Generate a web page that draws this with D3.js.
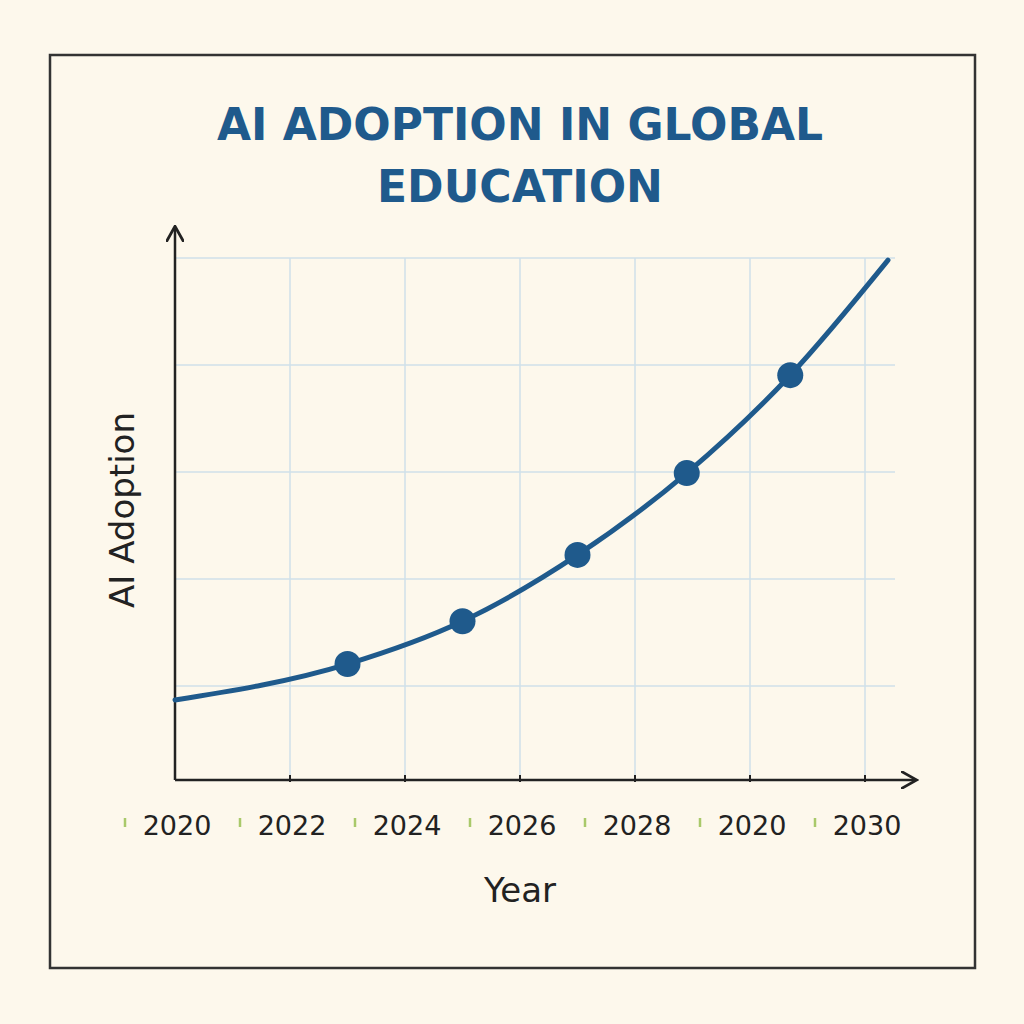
<!DOCTYPE html>
<html>
<head>
<meta charset="utf-8">
<script src="https://cdn.jsdelivr.net/npm/d3@7"></script>
<style>
  body { margin: 0; background: #fdf8ec; }
</style>
</head>
<body>
<script>
// data
var tickYears = [2020, 2022, 2024, 2026, 2028, 2030, 2032];
var tickLabels = ["2020", "2022", "2024", "2026", "2028", "2020", "2030"];
var curveYears = [2020, 2023, 2025, 2027, 2028.9, 2030.7, 2032.4];
var curveValues = [17.4, 24.1, 32.1, 44.5, 59.8, 78.1, 99.6];
var dotYears = [2023, 2025, 2027, 2028.9, 2030.7];
var dotValues = [24.1, 32.1, 44.5, 59.8, 78.1];
var gridValues = [20, 40, 60, 80, 100];

var blue = "#1f5a8c";

var svg = d3.select("body").append("svg")
    .attr("width", 1024)
    .attr("height", 1024);

svg.append("rect").attr("width", 1024).attr("height", 1024).attr("fill", "#fdf8ec");
svg.append("rect")
    .attr("x", 50).attr("y", 55).attr("width", 925).attr("height", 913)
    .attr("fill", "none").attr("stroke", "#333").attr("stroke-width", 2.5);

var x = d3.scaleLinear().domain([2020, 2032]).range([175, 865]);
var y = d3.scaleLinear().domain([0, 100]).range([793, 258]);
var axisY = 780;

// title
svg.selectAll(".title")
    .data(["AI ADOPTION IN GLOBAL", "EDUCATION"])
    .enter().append("text")
    .attr("x", 520)
    .attr("y", function(d, i) { return 140 + i * 62; })
    .attr("text-anchor", "middle")
    .attr("font-family", "DejaVu Sans")
    .attr("font-weight", "bold")
    .attr("font-size", 44)
    .attr("fill", blue)
    .text(function(d) { return d; });

// grid
svg.selectAll(".hgrid").data(gridValues).enter().append("line")
    .attr("x1", 175).attr("x2", 895)
    .attr("y1", function(d) { return y(d); })
    .attr("y2", function(d) { return y(d); })
    .attr("stroke", "#cfe0ea").attr("stroke-width", 1.5);
svg.selectAll(".vgrid").data(tickYears.slice(1)).enter().append("line")
    .attr("x1", function(d) { return x(d); })
    .attr("x2", function(d) { return x(d); })
    .attr("y1", y(100)).attr("y2", axisY)
    .attr("stroke", "#cfe0ea").attr("stroke-width", 1.5);

// axes with arrows
svg.append("defs").append("marker")
    .attr("id", "arrow").attr("viewBox", "0 0 10 10")
    .attr("refX", 8).attr("refY", 5)
    .attr("markerWidth", 7).attr("markerHeight", 7)
    .attr("orient", "auto-start-reverse")
    .append("path").attr("d", "M0,0 L9,5 L0,10")
    .attr("fill", "none").attr("stroke", "#222").attr("stroke-width", 1.6);

svg.append("line").attr("x1", 175).attr("y1", axisY).attr("x2", 175).attr("y2", 228)
    .attr("stroke", "#222").attr("stroke-width", 2.5).attr("marker-end", "url(#arrow)");
svg.append("line").attr("x1", 175).attr("y1", axisY).attr("x2", 915).attr("y2", axisY)
    .attr("stroke", "#222").attr("stroke-width", 2.5).attr("marker-end", "url(#arrow)");

svg.selectAll(".tick").data(tickYears.slice(1)).enter().append("line")
    .attr("x1", function(d) { return x(d); })
    .attr("x2", function(d) { return x(d); })
    .attr("y1", axisY - 5).attr("y2", axisY + 2)
    .attr("stroke", "#222").attr("stroke-width", 2);

// tick labels, each with a little green mark in front
var lab = svg.selectAll(".lab").data(tickYears).enter().append("g")
    .attr("transform", function(d) { return "translate(" + x(d) + ",835)"; });
lab.append("line")
    .attr("x1", -50).attr("x2", -50).attr("y1", -17).attr("y2", -8)
    .attr("stroke", "#a9c96a").attr("stroke-width", 2.5);
lab.append("text")
    .attr("x", 2)
    .attr("text-anchor", "middle")
    .attr("font-family", "DejaVu Sans")
    .attr("font-size", 27)
    .attr("fill", "#222")
    .text(function(d, i) { return tickLabels[i]; });

svg.append("text")
    .attr("x", 520).attr("y", 902)
    .attr("text-anchor", "middle")
    .attr("font-family", "DejaVu Sans")
    .attr("font-size", 34)
    .attr("fill", "#222")
    .text("Year");

svg.append("text")
    .attr("transform", "translate(134,510) rotate(-90)")
    .attr("text-anchor", "middle")
    .attr("font-family", "DejaVu Sans")
    .attr("font-size", 34)
    .attr("fill", "#222")
    .text("AI Adoption");

// curve
var line = d3.line()
    .x(function(d, i) { return x(curveYears[i]); })
    .y(function(d) { return y(d); })
    .curve(d3.curveMonotoneX);
svg.append("path")
    .attr("d", line(curveValues))
    .attr("fill", "none").attr("stroke", blue).attr("stroke-width", 5)
    .attr("stroke-linecap", "round");

svg.selectAll(".dot").data(dotValues).enter().append("circle")
    .attr("cx", function(d, i) { return x(dotYears[i]); })
    .attr("cy", function(d) { return y(d); })
    .attr("r", 13)
    .attr("fill", blue);
</script>
</body>
</html>
